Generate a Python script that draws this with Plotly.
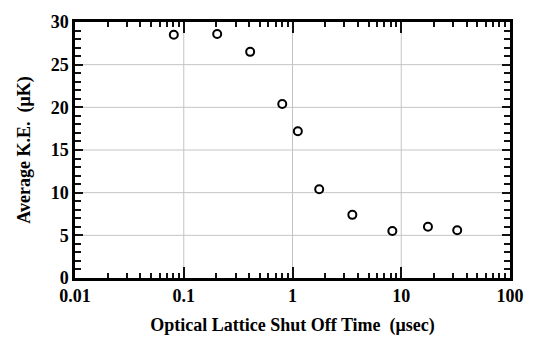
import plotly.graph_objects as go

# Shut-off time (microseconds) and average kinetic energy (microkelvin)
shutoff_time_us = [0.081, 0.203, 0.408, 0.805, 1.12, 1.76, 3.55, 8.28, 17.6, 32.7]
avg_ke_uK = [28.5, 28.6, 26.5, 20.4, 17.2, 10.4, 7.4, 5.5, 6.0, 5.6]

x_lo, x_hi = 0.01, 100
y_lo, y_hi = 0, 30
y_major_step = 5

# light reference lines at the inner major ticks
x_grid = [0.1, 1, 10]
y_grid = [5, 10, 15, 20, 25]

FONT = "Liberation Serif"
INK = "#111111"
TICK_FONT = dict(family=FONT, size=18, color="black", weight="bold")
TITLE_FONT = dict(family=FONT, size=18, color="black", weight="bold")
GRID_LINE = dict(color="#c4c4c4", width=1)

fig = go.Figure()

for gx in x_grid:
    fig.add_trace(go.Scatter(x=[gx, gx], y=[y_lo, y_hi], mode="lines", line=GRID_LINE,
                             showlegend=False, hoverinfo="skip"))
for gy in y_grid:
    fig.add_trace(go.Scatter(x=[x_lo, x_hi], y=[gy, gy], mode="lines", line=GRID_LINE,
                             showlegend=False, hoverinfo="skip"))

fig.add_trace(
    go.Scatter(
        x=shutoff_time_us,
        y=avg_ke_uK,
        mode="markers",
        marker=dict(symbol="circle-open", size=8, color="black", line=dict(width=2, color="black")),
        showlegend=False,
    )
)

fig.update_xaxes(
    type="log",
    range=[-2, 2],
    dtick=1,
    ticks="inside",
    ticklen=11,
    tickwidth=2,
    tickcolor=INK,
    minor=dict(ticks="inside", ticklen=5, tickcolor=INK),
    showline=True,
    linecolor="black",
    linewidth=2.5,
    mirror="allticks",
    showgrid=False,
    tickfont=TICK_FONT,
    title=dict(text="Optical Lattice Shut Off Time  (\u03bcsec)", font=TITLE_FONT, standoff=14),
)
fig.update_yaxes(
    range=[y_lo, y_hi],
    dtick=y_major_step,
    ticks="inside",
    ticklen=8,
    tickwidth=2,
    tickcolor=INK,
    minor=dict(ticks="inside", ticklen=6, tickcolor=INK, dtick=1),
    showline=True,
    linecolor="black",
    linewidth=2.5,
    mirror="allticks",
    showgrid=False,
    tickfont=TICK_FONT,
    title=dict(text="Average K.E.  (\u03bcK)", font=TITLE_FONT, standoff=16),
)

fig.update_layout(
    width=540,
    height=345,
    margin=dict(l=75, r=30, t=19, b=67),
    plot_bgcolor="white",
)

fig.write_html("out.html")
